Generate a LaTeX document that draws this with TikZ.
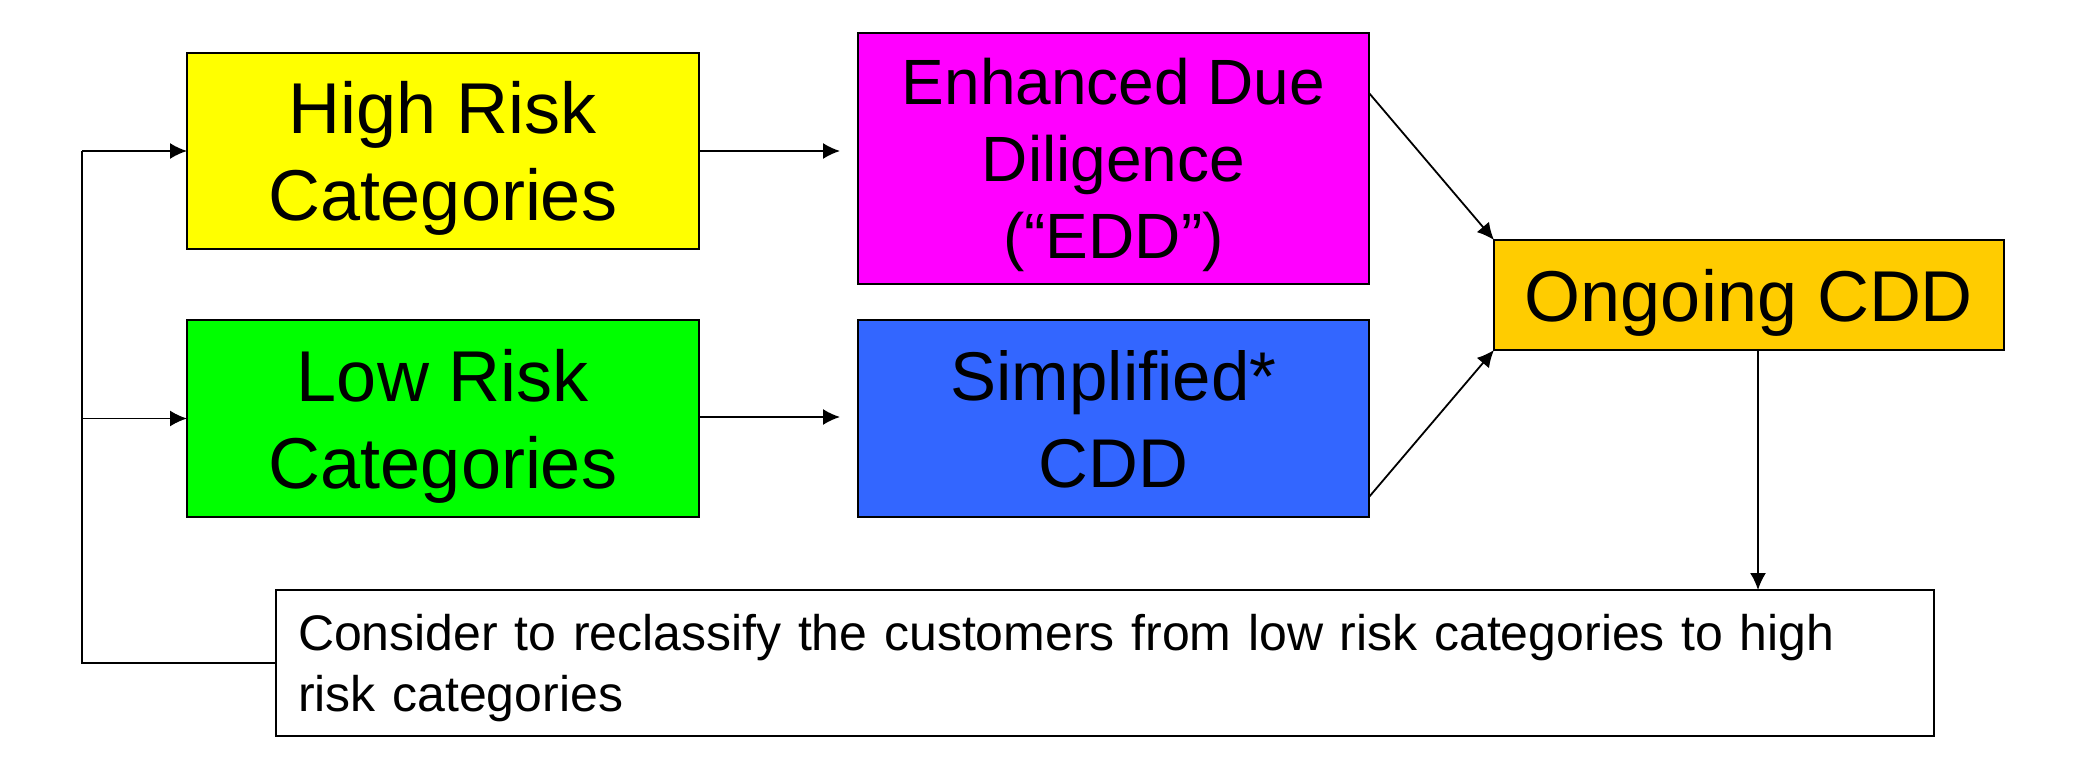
\documentclass[tikz,border=0pt]{standalone}
\usepackage{fontspec}
\setmainfont{Liberation Sans}
\usetikzlibrary{arrows.meta}

\definecolor{riskyellow}{HTML}{FFFF00}
\definecolor{riskmagenta}{HTML}{FF00FF}
\definecolor{riskgreen}{HTML}{00FF00}
\definecolor{riskblue}{HTML}{3366FF}
\definecolor{riskorange}{HTML}{FFCC00}

\tikzset{
  catbox/.style={draw=black,line width=2pt,inner sep=0pt,outer sep=0pt,align=center,text depth=0pt},
  notebox/.style={draw=black,line width=2pt,inner sep=0pt,outer sep=0pt,align=left,text depth=61pt},
  bigtext/.style={font=\fontsize{72}{87}\selectfont},
  link/.style={black,line width=1.8pt}
}

\begin{document}
\begin{tikzpicture}[x=1pt,y=-1pt,>={Latex[length=17pt,width=16pt]},line join=miter]
\useasboundingbox (0,0) rectangle (2080,762);

 \node (node_high) at (443,151) [catbox,bigtext,fill=riskyellow,minimum width=512pt,minimum height=196pt] {High Risk\\Categories};
 \node (node_edd) at (1113.5,158.5) [catbox,fill=riskmagenta,minimum width=511pt,minimum height=251pt,font=\fontsize{64}{77}\selectfont] {Enhanced Due\\Diligence\\(“EDD”)};
 \node (node_low) at (443,418.5) [catbox,bigtext,fill=riskgreen,minimum width=512pt,minimum height=197pt] {Low Risk\\Categories};
 \node (node_simp) at (1113.5,418.5) [catbox,fill=riskblue,minimum width=511pt,minimum height=197pt,font=\fontsize{69}{87}\selectfont] {Simplified*\\CDD};
 \node (node_ongoing) at (1749,295) [catbox,bigtext,fill=riskorange,minimum width=510pt,minimum height=110pt] {Ongoing CDD};
 \node (node_reclass) at (1105,663) [notebox,fill=white,minimum width=1658pt,minimum height=146pt,text width=1614pt,font=\fontsize{50}{61}\selectfont] {Consider to reclassify the customers from low risk categories to high\\risk categories};

 \coordinate (fb_bottom) at (82,663);
 \coordinate (fb_top) at (82,151);
 \coordinate (edd_in) at (840,151);
 \coordinate (simp_in) at (840,417);

  \draw [link] (node_reclass.west) -- (fb_bottom) -- (fb_top);
  \draw [link,->] (fb_top) -- (node_high.west);
  \draw [link,->] (fb_top |- node_low.west) -- (node_low.west);
  \draw [link,->] (node_high.east) -- (edd_in);
  \draw [link,->] (node_low.east |- simp_in) -- (simp_in);
  \draw [link,->] ([yshift=-60pt]node_edd.north east) -- (node_ongoing.north west);
  \draw [link,->] ([yshift=20pt]node_simp.south east) -- (node_ongoing.south west);
  \draw [link,->] ([xshift=9pt]node_ongoing.south) -- ([xshift=9pt]node_ongoing.south |- node_reclass.north);

\end{tikzpicture}
\end{document}
